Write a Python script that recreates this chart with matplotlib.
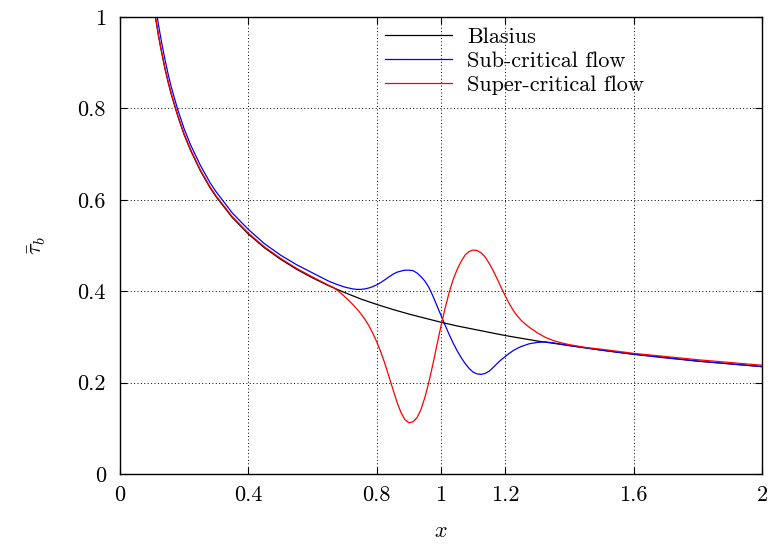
import matplotlib
matplotlib.use("Agg")
import matplotlib.pyplot as plt

plt.rcParams["font.family"] = "cmr10"
plt.rcParams["mathtext.fontset"] = "cm"
plt.rcParams["axes.formatter.use_mathtext"] = True
plt.rcParams["axes.unicode_minus"] = False

# Blasius wall shear stress
x_blasius = [0.105, 0.11, 0.12, 0.13, 0.14, 0.15, 0.16, 0.18, 0.20, 0.22, 0.25, 0.28,
             0.30, 0.35, 0.40, 0.45, 0.50, 0.55, 0.60, 0.65, 0.70, 0.75, 0.80, 0.85,
             0.90, 0.95, 1.00, 1.05, 1.10, 1.15, 1.20, 1.30, 1.40, 1.50, 1.60, 1.70,
             1.80, 1.90, 2.00]
tau_blasius = [1.024, 1.001, 0.958, 0.921, 0.887, 0.857, 0.830, 0.783, 0.742, 0.708, 0.664, 0.627,
               0.606, 0.561, 0.525, 0.495, 0.470, 0.448, 0.429, 0.412, 0.397, 0.383, 0.371, 0.360,
               0.350, 0.341, 0.332, 0.324, 0.317, 0.310, 0.303, 0.291, 0.281, 0.271, 0.262, 0.255,
               0.247, 0.241, 0.235]

# sub-critical flow
x_sub = [0.105, 0.11, 0.12, 0.13, 0.14, 0.15, 0.16, 0.18, 0.20, 0.22, 0.25, 0.28, 0.30,
         0.35, 0.40, 0.45, 0.50, 0.55, 0.60, 0.65, 0.675, 0.70, 0.725, 0.7375, 0.75,
         0.7625, 0.775, 0.7875, 0.80, 0.8125, 0.825, 0.8375, 0.85, 0.8625, 0.875,
         0.8875, 0.90, 0.9125, 0.925, 0.9375, 0.95, 0.9625, 0.975, 0.9875, 1.00,
         1.0125, 1.025, 1.0375, 1.05, 1.0625, 1.075, 1.0875, 1.10, 1.1125, 1.125,
         1.1375, 1.15, 1.1625, 1.175, 1.1875, 1.20, 1.2125, 1.225, 1.2375, 1.25,
         1.275, 1.30, 1.325, 1.35, 1.375, 1.40, 1.50, 1.60, 1.70, 1.80, 1.90, 2.00]
tau_sub = [1.05, 1.027, 0.982, 0.943, 0.907, 0.875, 0.846, 0.797, 0.755, 0.720, 0.676, 0.638, 0.617,
           0.571, 0.535, 0.504, 0.479, 0.458, 0.440, 0.422, 0.415, 0.409, 0.405, 0.404, 0.404,
           0.405, 0.407, 0.410, 0.414, 0.419, 0.425, 0.431, 0.437, 0.4415, 0.444,
           0.446, 0.446, 0.445, 0.440, 0.432, 0.422, 0.408, 0.389, 0.368, 0.347,
           0.326, 0.306, 0.287, 0.270, 0.255, 0.242, 0.231, 0.223, 0.219, 0.218,
           0.220, 0.225, 0.233, 0.242, 0.250, 0.257, 0.264, 0.270, 0.275, 0.279,
           0.285, 0.288, 0.289, 0.287, 0.284, 0.281, 0.271, 0.262, 0.254, 0.247, 0.241, 0.235]

# super-critical flow
x_super = [0.105, 0.11, 0.12, 0.13, 0.14, 0.15, 0.16, 0.18, 0.20, 0.22, 0.25, 0.28, 0.30,
           0.35, 0.40, 0.45, 0.50, 0.55, 0.60, 0.65, 0.6625, 0.675, 0.6875, 0.70, 0.7125,
           0.725, 0.7375, 0.75, 0.7625, 0.775, 0.7875, 0.80, 0.8125, 0.825, 0.8375,
           0.85, 0.8625, 0.875, 0.8875, 0.90, 0.9125, 0.925, 0.9375, 0.95, 0.9625,
           0.975, 0.9875, 1.00, 1.0125, 1.025, 1.0375, 1.05, 1.0625, 1.075, 1.0875,
           1.10, 1.1125, 1.125, 1.1375, 1.15, 1.1625, 1.175, 1.1875, 1.20, 1.2125,
           1.225, 1.2375, 1.25, 1.2625, 1.275, 1.2875, 1.30, 1.325, 1.35, 1.375, 1.40,
           1.45, 1.50, 1.60, 1.70, 1.80, 1.90, 2.00]
tau_super = [1.026, 1.003, 0.960, 0.923, 0.889, 0.859, 0.832, 0.785, 0.744, 0.710, 0.666, 0.629, 0.608,
             0.563, 0.527, 0.497, 0.472, 0.450, 0.431, 0.413, 0.409, 0.403, 0.396, 0.388, 0.380,
             0.371, 0.3615, 0.351, 0.339, 0.325, 0.308, 0.289, 0.267, 0.242, 0.214,
             0.186, 0.158, 0.135, 0.119, 0.112, 0.114, 0.123, 0.141, 0.168, 0.202,
             0.241, 0.283, 0.324, 0.362, 0.396, 0.425, 0.447, 0.465, 0.479, 0.487,
             0.490, 0.489, 0.484, 0.475, 0.461, 0.445, 0.427, 0.408, 0.390, 0.373,
             0.358, 0.346, 0.336, 0.328, 0.321, 0.315, 0.309, 0.299, 0.292, 0.287, 0.283,
             0.277, 0.273, 0.264, 0.257, 0.250, 0.244, 0.238]

x_ticks = [0, 0.4, 0.8, 1, 1.2, 1.6, 2]
x_tick_labels = ["0", "0.4", "0.8", "1", "1.2", "1.6", "2"]
y_ticks = [0, 0.2, 0.4, 0.6, 0.8, 1]
y_tick_labels = ["0", "0.2", "0.4", "0.6", "0.8", "1"]

fig = plt.figure(figsize=(7.69, 5.44), dpi=100)
ax = fig.add_axes([120 / 769, 70 / 544, 642 / 769, 457 / 544])

ax.plot(x_blasius, tau_blasius, color="black", lw=0.9, label="Blasius")
ax.plot(x_sub, tau_sub, color="blue", lw=0.9, label="Sub-critical flow")
ax.plot(x_super, tau_super, color="red", lw=0.9, label="Super-critical flow")

ax.set_xlim(0, 2)
ax.set_ylim(0, 1)
ax.set_xticks(x_ticks)
ax.set_xticklabels(x_tick_labels)
ax.set_yticks(y_ticks)
ax.set_yticklabels(y_tick_labels)
ax.tick_params(direction="in", top=True, right=True, length=5, width=0.8,
               labelsize=16)
ax.tick_params(axis="x", pad=8)
ax.tick_params(axis="y", pad=10)
ax.grid(True, linestyle=(0, (1, 2.5)), color="black", linewidth=0.7)
for sp in ax.spines.values():
    sp.set_linewidth(1.0)

ax.set_xlabel(r"$x$", fontsize=16, labelpad=12)
ax.set_ylabel(r"$\bar{\tau}_b$", fontsize=16, labelpad=21)

ax.legend(loc="upper left", bbox_to_anchor=(0.413, 0.978), frameon=False,
          fontsize=16, handlelength=3.0, handletextpad=0.68, labelspacing=0.21,
          borderpad=0, borderaxespad=0)

fig.savefig("out.png", dpi=100)
